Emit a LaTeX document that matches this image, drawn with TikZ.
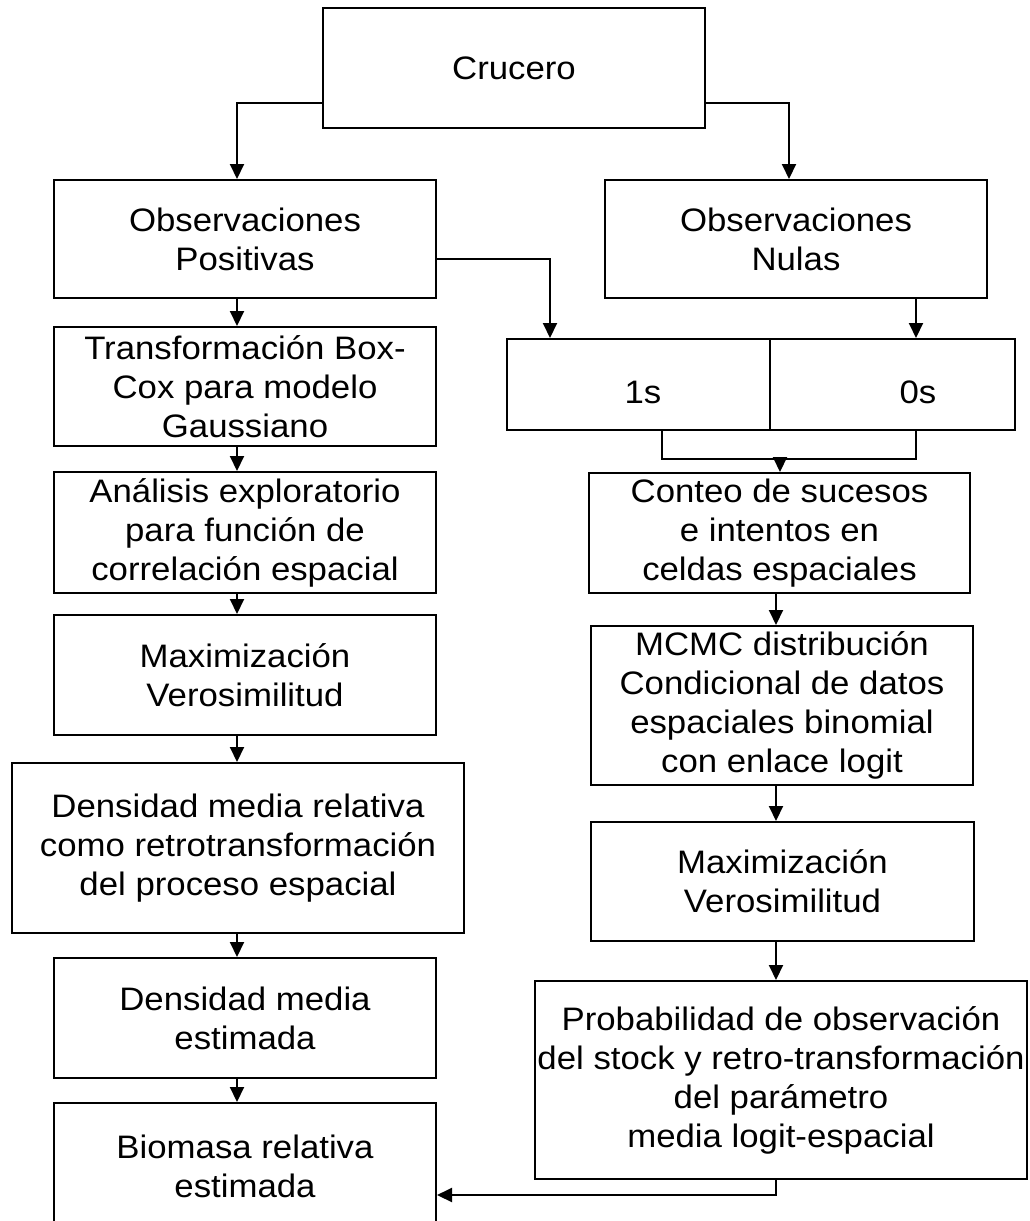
\documentclass[tikz,border=0pt]{standalone}
\usepackage{fontspec}
\setmainfont[FakeStretch=1.07]{Liberation Sans}
\usetikzlibrary{arrows.meta}
\begin{document}
\begin{tikzpicture}[x=1pt,y=-1pt,
  every node/.style={font=\fontsize{32.5}{39}\selectfont},
  box/.style={draw, line width=2pt, align=center, inner sep=0pt},
  half/.style={draw, line width=2pt, inner sep=0pt},
  txt/.style={inner sep=0pt},
  conn/.style={line width=2pt},
  arr/.style={line width=2pt, -{Triangle[length=15pt,width=14pt]}}]
\useasboundingbox (0,0) rectangle (1029,1221);
\clip (0,0) rectangle (1029,1221);
\fill[white] (0,0) rectangle (1029,1221);
% column coordinates
\coordinate (colL) at (237,0);
\coordinate (colR) at (776,0);
\coordinate (c1) at (550,0);
\coordinate (c0) at (916,0);
\coordinate (c1b) at (662,0);
\coordinate (m) at (780,459);
\coordinate (e) at (0,1195);
% nodes
\node[box, minimum width=382pt, minimum height=120pt] (cru) at (514,68) {Crucero};
\node[box, minimum width=382pt, minimum height=118pt] (pos) at (245,239) {Observaciones\\Positivas};
\node[box, minimum width=382pt, minimum height=118pt] (nul) at (796,239) {Observaciones\\Nulas};
\node[box, minimum width=382pt, minimum height=119pt] (bc) at (245,386.5) {Transformación Box-\\Cox para modelo\\Gaussiano};
\node[half, minimum width=263pt, minimum height=91pt] (one) at (638.5,384.5) {};
\node[half, minimum width=245pt, minimum height=91pt] (zero) at (892.5,384.5) {};
\node[txt] (lbl1) at (643,392) {1s};
\node[txt] (lbl0) at (918,392) {0s};
\node[box, minimum width=382pt, minimum height=121pt] (ana) at (245,532.5) {Análisis exploratorio\\para función de\\correlación espacial};
\node[box, minimum width=381pt, minimum height=120pt] (con) at (779.5,533) {Conteo de sucesos\\e intentos en\\celdas espaciales};
\node[box, minimum width=382pt, minimum height=120pt] (max1) at (245,675) {Maximización\\Verosimilitud};
\node[box, minimum width=382pt, minimum height=159pt] (mcmc) at (782,705.5) {MCMC distribución\\Condicional de datos\\espaciales binomial\\con enlace logit};
\node[box, minimum width=452pt, minimum height=170pt] (dens) at (238,848) {Densidad media relativa\\como retrotransformación\\del proceso espacial};
\node[box, minimum width=383pt, minimum height=119pt] (max2) at (782.5,881.5) {Maximización\\Verosimilitud};
\node[box, minimum width=382pt, minimum height=120pt] (dme) at (245,1018) {Densidad media\\estimada};
\node[box, minimum width=492pt, minimum height=198pt] (prob) at (781,1080) {Probabilidad de observación\\del stock y retro-transformación\\del parámetro\\media logit-espacial};
\node[box, minimum width=382pt, minimum height=126pt] (bio) at (245,1166) {Biomasa relativa\\estimada};
% connectors
\draw[arr] ([yshift=26pt]cru.south west) -| (pos.north -| colL);
\draw[arr] ([yshift=26pt]cru.south east) -| ([xshift=-7pt]nul.north);
\draw[arr] (pos.south -| colL) -- (bc.north -| colL);
\draw[arr] ([yshift=40pt]pos.south east) -| (one.north -| c1);
\draw[arr] (nul.south -| c0) -- (zero.north -| c0);
\draw[conn] (one.south -| c1b) |- (m) -| (zero.south -| c0);
\draw[arr] (m) -- (m |- con.north);
\draw[arr] (bc.south -| colL) -- (ana.north -| colL);
\draw[arr] (ana.south -| colL) -- (max1.north -| colL);
\draw[arr] (max1.south -| colL) -- (dens.north -| colL);
\draw[arr] (dens.south -| colL) -- (dme.north -| colL);
\draw[arr] (dme.south -| colL) -- (bio.north -| colL);
\draw[arr] (con.south -| colR) -- (mcmc.north -| colR);
\draw[arr] (mcmc.south -| colR) -- (max2.north -| colR);
\draw[arr] (max2.south -| colR) -- (prob.north -| colR);
\draw[arr] (prob.south -| colR) |- (bio.east |- e);
\end{tikzpicture}
\end{document}
